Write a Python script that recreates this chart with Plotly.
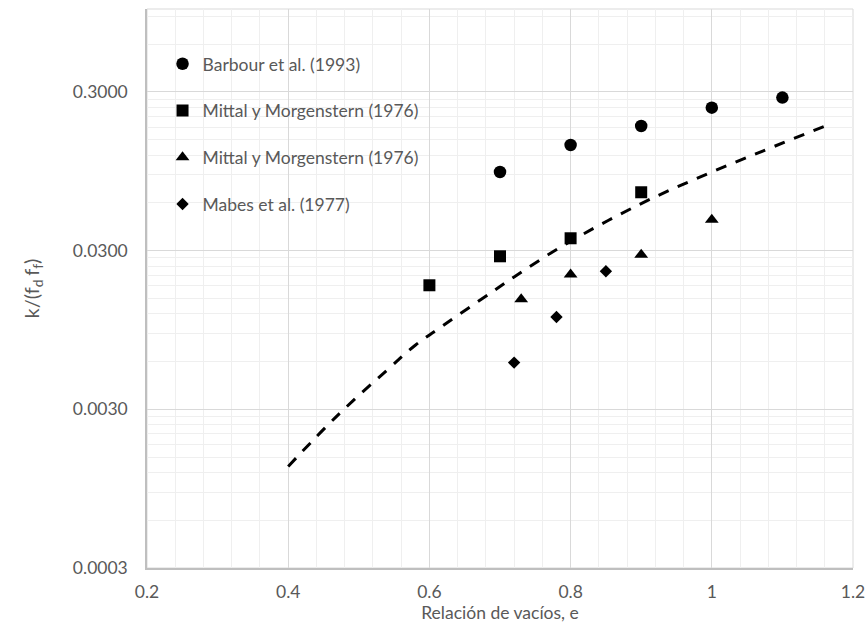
import plotly.graph_objects as go

# ---- data ----
barbour_e = [0.7, 0.8, 0.9, 1.0, 1.1]
barbour_k = [0.0939, 0.139, 0.183, 0.239, 0.2765]

mittal_sq_e = [0.6, 0.7, 0.8, 0.9]
mittal_sq_k = [0.01815, 0.02764, 0.0359, 0.070]

mittal_tri_e = [0.73, 0.8, 0.9, 1.0]
mittal_tri_k = [0.0148, 0.0212, 0.0283, 0.0470]

mabes_e = [0.72, 0.78, 0.85]
mabes_k = [0.00591, 0.01146, 0.02223]

curve_e = [0.40, 0.47, 0.54, 0.58, 0.62, 0.69, 0.72, 0.79, 0.90, 1.00, 1.166]
curve_k = [0.00131, 0.00275, 0.0053, 0.0076, 0.01016, 0.01663, 0.0205, 0.0324, 0.0594, 0.0939, 0.187]

y_tickvals = [0.0003, 0.003, 0.03, 0.3]
y_ticktext = ["0.0003", "0.0030", "0.0300", "0.3000"]

series_names = ["Barbour et al. (1993)", "Mittal y Morgenstern (1976)",
                "Mittal y Morgenstern (1976)", "Mabes et al. (1977)"]

FONT = "Lato"
TXT = "#595959"
FS = 17.5

# minor gridlines at k * (major tick) like the reference
y_minor = []
for b in y_tickvals:
    for k in range(2, 10):
        v = b * k
        if v <= 1.0:
            y_minor.append(v)

fig = go.Figure()

fig.add_trace(go.Scatter(x=curve_e, y=curve_k, mode="lines", line_shape="spline",
                         line=dict(color="black", width=3, dash="11px,10px"),
                         showlegend=False, hoverinfo="skip"))

marker_specs = [
    (barbour_e, barbour_k, "circle", 12.5),
    (mittal_sq_e, mittal_sq_k, "square", 12),
    (mittal_tri_e, mittal_tri_k, "triangle-up", 12),
    (mabes_e, mabes_k, "diamond", 9.5),
]
for i, ((xs, ys, sym, sz), nm) in enumerate(zip(marker_specs, series_names)):
    fig.add_trace(go.Scatter(x=xs, y=ys, mode="markers", name=nm,
                             legendgroup=f"g{i}",
                             marker=dict(symbol=sym, size=sz, color="black",
                                         line=dict(width=0))))

fig.update_layout(
    width=866, height=639, autosize=False,
    margin=dict(l=147, r=13, t=9, b=71, autoexpand=False),
    paper_bgcolor="white", plot_bgcolor="white",
    font=dict(family=FONT, size=FS, color=TXT),
    legend=dict(x=0.022, y=0.934, xanchor="left", yanchor="top",
                bgcolor="rgba(0,0,0,0)", tracegroupgap=21,
                itemwidth=30, font=dict(family=FONT, size=FS, color=TXT)),
    shapes=[dict(type="rect", xref="paper", yref="paper", x0=0, x1=1, y0=0, y1=1,
                 line=dict(color="#d9d9d9", width=1), layer="below")],
)

fig.update_xaxes(
    range=[0.2, 1.2], tick0=0.2, dtick=0.2, automargin=False,
    showgrid=True, gridcolor="#d9d9d9", gridwidth=1,
    minor=dict(tick0=0.2, dtick=0.04, showgrid=True, gridcolor="#efefef", gridwidth=1),
    showline=True, linecolor="#bfbfbf", linewidth=1.5,
    zeroline=False, ticks="", ticklabelstandoff=7,
    tickfont=dict(family=FONT, size=FS, color=TXT),
    title=dict(text="Relación de vacíos, e", font=dict(family=FONT, size=FS, color=TXT),
               standoff=6),
)

fig.update_yaxes(
    type="log", range=[-3.5229, 0.0], automargin=False,
    tickmode="array", tickvals=y_tickvals, ticktext=y_ticktext,
    showgrid=True, gridcolor="#d9d9d9", gridwidth=1,
    minor=dict(tickmode="array", tickvals=y_minor, showgrid=True,
               gridcolor="#efefef", gridwidth=1),
    showline=True, linecolor="#bfbfbf", linewidth=1.5,
    zeroline=False, ticks="", ticklabelstandoff=14,
    tickfont=dict(family=FONT, size=FS, color=TXT),
    title=dict(text="k/(f<sub>d </sub>f<sub>f</sub>)",
               font=dict(family=FONT, size=20, color=TXT), standoff=28),
)

fig.write_html("out.html", config={"displayModeBar": False},
               post_script="document.body.style.margin='0';document.body.style.padding='0';")
